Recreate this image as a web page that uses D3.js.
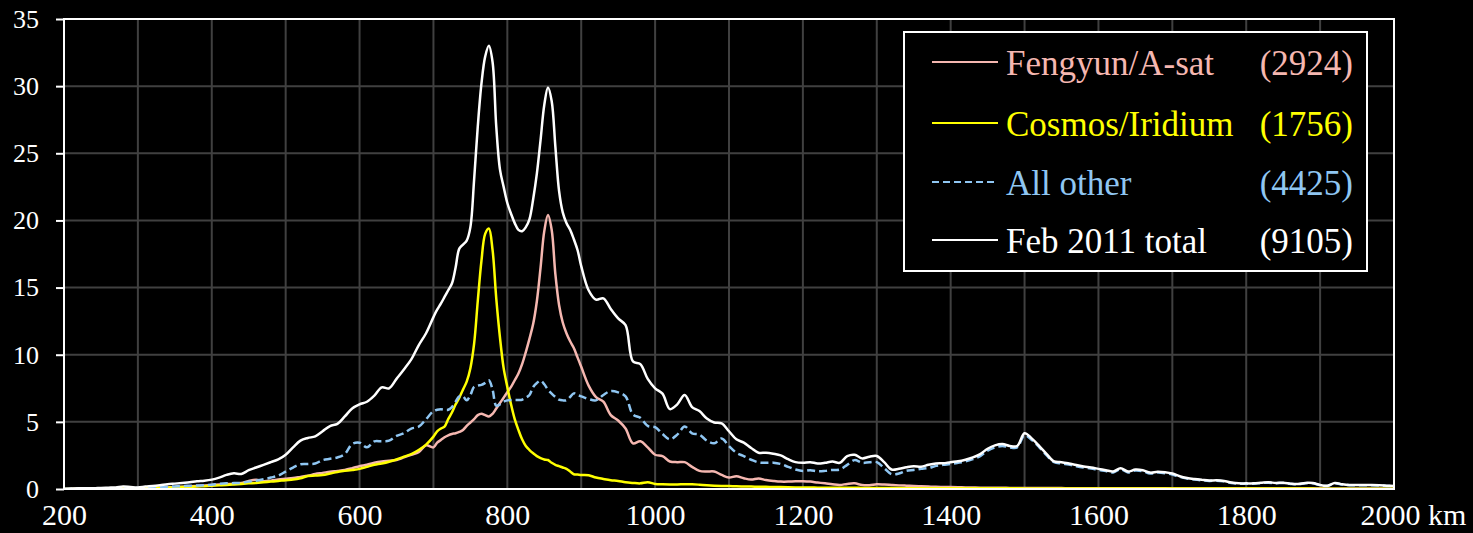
<!DOCTYPE html>
<html>
<head>
<meta charset="utf-8">
<script src="https://cdn.jsdelivr.net/npm/d3@7"></script>
<style>
	html, body { margin: 0; padding: 0; background: #000; }
	svg { display: block; }
	.serif { font-family: 'Liberation Serif', 'DejaVu Serif', 'Noto Serif', serif; }
</style>
</head>
<body>
<div id="chart"></div>
<script>
// Altitude (km) sample points: 10 km steps, 5 km around the two peaks
var km = [].concat(d3.range(200, 700, 10), d3.range(700, 900, 5), d3.range(900, 2001, 10));

var fengyun = [
	// 200 - 690
	0, 0, 0.01, 0.01, 0.02, 0.02, 0.03, 0.03, 0.04, 0.05,
	0.06, 0.07, 0.08, 0.1, 0.12, 0.14, 0.17, 0.2, 0.23, 0.26,
	0.3, 0.34, 0.37, 0.4, 0.45, 0.6, 0.68, 0.58, 0.62, 0.7,
	0.76, 0.82, 0.9, 0.98, 1.12, 1.2, 1.29, 1.35, 1.42, 1.55,
	1.7, 1.8, 1.95, 2.05, 2.1, 2.16, 2.35, 2.55, 2.75, 3.25,
	// 700 - 895
	3.1, 3.45, 3.65, 3.85, 4.0, 4.1, 4.15, 4.25, 4.4, 4.7,
	4.95, 5.2, 5.5, 5.6, 5.5, 5.4, 5.6, 6.0, 6.4, 6.8,
	7.2, 7.6, 8.1, 8.6, 9.3, 10.2, 11.2, 12.3, 14.0, 16.5,
	19.2, 20.4, 19.3, 16.0, 13.7, 12.4, 11.6, 11.0, 10.5, 9.8,
	// 900 - 2000
	9.1, 7.7, 6.85, 6.5, 5.5, 5.1, 4.5, 3.4, 3.55, 3.1,
	2.55, 2.45, 2.05, 2.0, 2.0, 1.65, 1.35, 1.3, 1.3, 1.05,
	0.85, 0.95, 0.8, 0.7, 0.78, 0.67, 0.6, 0.55, 0.55, 0.58,
	0.58, 0.55, 0.48, 0.42, 0.35, 0.3, 0.38, 0.42, 0.3, 0.28,
	0.35, 0.33, 0.3, 0.27, 0.25, 0.22, 0.2, 0.18, 0.16, 0.15,
	0.14, 0.13, 0.12, 0.11, 0.1, 0.1, 0.09, 0.09, 0.08, 0.08,
	0.08, 0.08, 0.07, 0.07, 0.07, 0.07, 0.06, 0.06, 0.06, 0.06,
	0.05, 0.05, 0.05, 0.05, 0.05, 0.05, 0.05, 0.05, 0.05, 0.05,
	0.04, 0.04, 0.04, 0.04, 0.04, 0.04, 0.04, 0.04, 0.04, 0.04,
	0.03, 0.03, 0.03, 0.03, 0.03, 0.03, 0.03, 0.03, 0.03, 0.03,
	0.03, 0.03, 0.02, 0.02, 0.02, 0.02, 0.02, 0.02, 0.02, 0.02,
	0.02
];

var cosmos = [
	// 200 - 690
	0, 0, 0, 0.01, 0.01, 0.02, 0.02, 0.03, 0.04, 0.05,
	0.06, 0.07, 0.08, 0.09, 0.1, 0.12, 0.14, 0.16, 0.18, 0.21,
	0.24, 0.27, 0.3, 0.34, 0.38, 0.42, 0.45, 0.5, 0.55, 0.6,
	0.66, 0.7, 0.8, 0.97, 1.0, 1.04, 1.15, 1.27, 1.35, 1.42,
	1.5, 1.65, 1.8, 1.9, 2.03, 2.2, 2.4, 2.6, 2.9, 3.3,
	// 700 - 895
	3.9, 4.3, 4.5, 4.64, 5.2, 5.7, 6.3, 6.8, 7.4, 8.0,
	9.0, 10.8, 14.0, 17.0, 19.0, 19.4, 17.8, 14.2, 11.3, 9.0,
	7.6, 6.3, 5.2, 4.4, 3.7, 3.2, 2.9, 2.66, 2.45, 2.3,
	2.2, 2.16, 1.95, 1.8, 1.7, 1.6, 1.5, 1.3, 1.1, 1.08,
	// 900 - 2000
	1.05, 1.03, 0.85, 0.75, 0.66, 0.6, 0.5, 0.45, 0.42, 0.5,
	0.38, 0.35, 0.34, 0.34, 0.35, 0.35, 0.32, 0.28, 0.25, 0.23,
	0.22, 0.2, 0.19, 0.18, 0.17, 0.16, 0.15, 0.14, 0.13, 0.12,
	0.11, 0.11, 0.1, 0.1, 0.1, 0.09, 0.09, 0.09, 0.08, 0.08,
	0.08, 0.07, 0.07, 0.07, 0.06, 0.06, 0.06, 0.06, 0.05, 0.05,
	0.05, 0.05, 0.05, 0.05, 0.05, 0.05, 0.05, 0.05, 0.05, 0.05,
	0.04, 0.04, 0.04, 0.04, 0.04, 0.04, 0.04, 0.04, 0.04, 0.04,
	0.04, 0.04, 0.04, 0.04, 0.04, 0.04, 0.04, 0.04, 0.04, 0.04,
	0.03, 0.03, 0.03, 0.03, 0.03, 0.03, 0.03, 0.03, 0.03, 0.03,
	0.03, 0.03, 0.03, 0.03, 0.03, 0.03, 0.03, 0.03, 0.03, 0.03,
	0.02, 0.02, 0.02, 0.02, 0.02, 0.02, 0.02, 0.02, 0.02, 0.02,
	0.02
];

var allOther = [
	// 200 - 690
	0, 0.02, 0.02, 0.02, 0.02, 0.02, 0.02, 0.02, 0.04, 0.06,
	0.08, 0.1, 0.11, 0.12, 0.16, 0.19, 0.22, 0.24, 0.26, 0.28,
	0.32, 0.38, 0.42, 0.44, 0.46, 0.55, 0.62, 0.72, 0.85, 1.0,
	1.3, 1.6, 1.84, 1.86, 1.9, 2.15, 2.25, 2.35, 2.6, 3.35,
	3.45, 3.1, 3.55, 3.55, 3.6, 3.95, 4.15, 4.5, 4.64, 5.2,
	// 700 - 895
	5.8, 5.9, 5.94, 5.9, 5.9, 6.1, 6.5, 6.9, 6.9, 6.6,
	7.0, 7.6, 7.7, 7.75, 7.9, 8.1, 7.4, 6.2, 6.3, 6.5,
	6.6, 6.63, 6.63, 6.63, 6.65, 6.8, 7.0, 7.6, 7.9, 8.07,
	7.8, 7.4, 7.1, 6.85, 6.65, 6.6, 6.6, 6.85, 7.12, 7.0,
	// 900 - 2000
	6.9, 6.7, 6.6, 7.0, 7.3, 7.2, 6.9, 5.55, 5.3, 4.7,
	4.6, 4.1, 3.7, 4.05, 4.65, 4.15, 4.05, 3.6, 3.4, 3.76,
	3.2, 2.7, 2.45, 2.18, 1.98, 1.96, 1.96, 1.86, 1.65, 1.45,
	1.34, 1.4, 1.32, 1.35, 1.42, 1.45, 1.8, 2.15, 1.95, 1.99,
	2.0, 1.55, 1.1, 1.15, 1.36, 1.42, 1.5, 1.56, 1.72, 1.8,
	1.86, 1.95, 2.05, 2.22, 2.45, 2.85, 3.1, 3.2, 3.1, 3.1,
	4.0, 3.65, 3.1, 2.5, 2.0, 1.9, 1.82, 1.7, 1.6, 1.52,
	1.42, 1.33, 1.23, 1.48, 1.23, 1.38, 1.33, 1.16, 1.22, 1.18,
	1.08, 0.9, 0.78, 0.7, 0.64, 0.6, 0.62, 0.57, 0.45, 0.4,
	0.4, 0.4, 0.44, 0.47, 0.43, 0.45, 0.38, 0.35, 0.43, 0.42,
	0.28, 0.23, 0.43, 0.33, 0.28, 0.28, 0.28, 0.28, 0.26, 0.23,
	0.2
];

var total2011 = [
	// 200 - 690
	0.0, 0.03, 0.05, 0.05, 0.05, 0.08, 0.1, 0.12, 0.18, 0.15,
	0.12, 0.18, 0.22, 0.28, 0.35, 0.4, 0.45, 0.5, 0.58, 0.62,
	0.7, 0.85, 1.05, 1.17, 1.12, 1.4, 1.6, 1.8, 2.0, 2.2,
	2.55, 3.1, 3.6, 3.8, 3.92, 4.3, 4.69, 4.85, 5.4, 6.0,
	6.3, 6.5, 6.95, 7.57, 7.5, 8.2, 8.9, 9.65, 10.7, 11.6,
	// 700 - 895
	12.8, 13.35, 13.8, 14.3, 14.8, 15.3, 16.5, 17.9, 18.2, 18.5,
	19.5, 23.0, 27.0, 30.2, 32.2, 33.0, 31.8, 27.0, 23.8, 22.5,
	21.3, 20.5, 19.8, 19.3, 19.2, 19.5, 20.1, 21.6, 23.5, 26.0,
	28.6, 29.9, 28.9, 25.5, 22.2, 20.6, 19.8, 19.3, 18.6, 17.8,
	// 900 - 2000
	16.6, 14.8, 14.1, 14.2, 13.4, 12.7, 12.2, 9.5, 9.3, 8.2,
	7.5, 7.1, 5.95, 6.3, 7.0, 6.1, 5.8, 5.25, 4.95, 4.88,
	4.3, 3.7, 3.45, 3.05, 2.7, 2.7, 2.62, 2.5, 2.22, 2.0,
	1.96, 2.0, 1.9, 1.95, 2.05, 1.95, 2.45, 2.55, 2.28, 2.4,
	2.46, 2.0, 1.45, 1.5, 1.62, 1.7, 1.66, 1.8, 1.9, 1.92,
	2.0, 2.06, 2.18, 2.35, 2.6, 3.0, 3.25, 3.35, 3.2, 3.2,
	4.15, 3.75, 3.2, 2.6, 2.05, 2.0, 1.9, 1.78, 1.68, 1.6,
	1.5, 1.4, 1.3, 1.55, 1.3, 1.45, 1.4, 1.22, 1.29, 1.25,
	1.15, 0.95, 0.82, 0.74, 0.68, 0.63, 0.65, 0.6, 0.48, 0.42,
	0.42, 0.42, 0.46, 0.5, 0.45, 0.47, 0.4, 0.37, 0.45, 0.44,
	0.3, 0.25, 0.45, 0.35, 0.3, 0.3, 0.3, 0.3, 0.28, 0.25,
	0.22
];

var seriesNames = ['Fengyun/A-sat', 'Cosmos/Iridium', 'All other', 'Feb 2011 total'];
var seriesCounts = ['(2924)', '(1756)', '(4425)', '(9105)'];
var xTicks = d3.range(200, 2001, 200);
var yTicks = d3.range(0, 36, 5);

/***********************************************************
  Setup
***********************************************************/
var width = 1473, height = 533;
var plot = { left: 64, right: 1394, top: 19, bottom: 489 };
var colors = ['#f5b7b0', '#ffff00', '#8fc6f2', '#ffffff'];
var values = [fengyun, cosmos, allOther, total2011];

var svg = d3.select('#chart').append('svg')
	.attr('width', width)
	.attr('height', height)
	.style('background', '#000');

var x = d3.scaleLinear().domain([200, 2000]).range([plot.left, plot.right]);
var y = d3.scaleLinear().domain([0, 35]).range([plot.bottom, plot.top]);

// grid
svg.append('g')
	.selectAll('line')
	.data(d3.range(300, 2000, 100))
	.enter().append('line')
	.attr('x1', d => x(d)).attr('x2', d => x(d))
	.attr('y1', plot.top).attr('y2', plot.bottom)
	.attr('stroke', '#404040').attr('stroke-width', 2);
svg.append('g')
	.selectAll('line')
	.data(d3.range(5, 35, 5))
	.enter().append('line')
	.attr('x1', plot.left).attr('x2', plot.right)
	.attr('y1', d => y(d)).attr('y2', d => y(d))
	.attr('stroke', '#404040').attr('stroke-width', 2);

// axes
var yAxis = svg.append('g')
	.attr('transform', 'translate(' + plot.left + ',0)')
	.call(d3.axisLeft(y).tickValues(yTicks).tickSize(8).tickPadding(17));
yAxis.attr('font-family', null).attr('font-size', null);
yAxis.select('.domain').remove();
yAxis.selectAll('line').attr('stroke', '#fff').attr('stroke-width', 2);
yAxis.selectAll('text')
	.attr('class', 'serif')
	.attr('fill', '#fff')
	.style('font-size', '26px');

var xAxis = svg.append('g')
	.attr('transform', 'translate(0,' + plot.bottom + ')')
	.call(d3.axisBottom(x).tickValues(xTicks).tickSize(0).tickPadding(15).tickFormat(d3.format('d')));
xAxis.attr('font-family', null).attr('font-size', null);
xAxis.select('.domain').remove();
xAxis.selectAll('text')
	.attr('class', 'serif')
	.attr('fill', '#fff')
	.style('font-size', '30px');
// last label carries the unit
xAxis.selectAll('.tick').filter(d => d === 2000).select('text')
	.attr('text-anchor', 'start')
	.attr('x', -34)
	.text('2000 km');

/***********************************************************
  Series lines
***********************************************************/
svg.append('clipPath').attr('id', 'plotClip')
	.append('rect')
	.attr('x', plot.left).attr('y', plot.top - 2)
	.attr('width', plot.right - plot.left).attr('height', plot.bottom - plot.top + 2);

var line = d3.line()
	.x((d, i) => x(km[i]))
	.y(d => y(d))
	.curve(d3.curveCatmullRom.alpha(0.5));

var lines = svg.append('g').attr('clip-path', 'url(#plotClip)');
values.forEach(function(vals, i) {
	lines.append('path')
		.datum(vals)
		.attr('d', line)
		.attr('fill', 'none')
		.attr('stroke', colors[i])
		.attr('stroke-width', 2.5)
		.attr('stroke-dasharray', i === 2 ? '8,4' : null)
		.attr('stroke-linejoin', 'round');
});

// plot frame
svg.append('rect')
	.attr('x', plot.left).attr('y', plot.top)
	.attr('width', plot.right - plot.left).attr('height', plot.bottom - plot.top)
	.attr('fill', 'none').attr('stroke', '#fff').attr('stroke-width', 2);

/***********************************************************
  Legend
***********************************************************/
var legend = svg.append('g');
legend.append('rect')
	.attr('x', 904).attr('y', 32)
	.attr('width', 463).attr('height', 239)
	.attr('fill', '#000').attr('stroke', '#fff').attr('stroke-width', 2);

var rowY = [62, 123, 182, 240];
seriesNames.forEach(function(name, i) {
	legend.append('line')
		.attr('x1', 932).attr('x2', 998)
		.attr('y1', rowY[i]).attr('y2', rowY[i])
		.attr('stroke', colors[i]).attr('stroke-width', 2)
		.attr('stroke-dasharray', i === 2 ? '7,4' : null);
	legend.append('text')
		.attr('class', 'serif')
		.attr('x', 1006).attr('y', rowY[i] + 13)
		.attr('fill', colors[i])
		.style('font-size', '35px')
		.text(name);
	legend.append('text')
		.attr('class', 'serif')
		.attr('x', 1353).attr('y', rowY[i] + 13)
		.attr('text-anchor', 'end')
		.attr('fill', colors[i])
		.style('font-size', '35px')
		.text(seriesCounts[i]);
});
</script>
</body>
</html>
